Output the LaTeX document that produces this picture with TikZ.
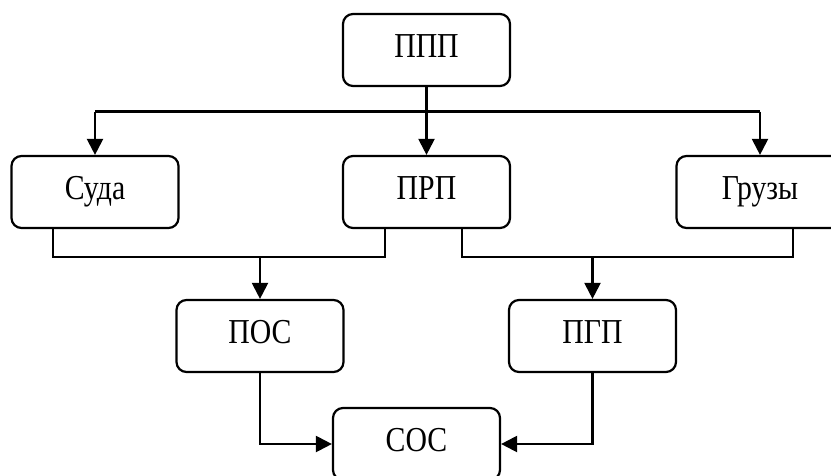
\documentclass[tikz,border=0pt]{standalone}
\usepackage{fontspec}
\setmainfont{Liberation Serif}[FakeStretch=0.85]
\usetikzlibrary{arrows.meta}
\tikzset{
  box/.style={draw, line width=2.2pt, rounded corners=10pt, minimum width=167pt, minimum height=72pt,
    inner sep=0pt, text height=24pt, text depth=9pt, font=\fontsize{35}{35}\selectfont},
  conn/.style={line width=2.2pt},
  arr/.style={conn, -{Triangle[width=16pt,length=16pt]}}
}
\begin{document}
\begin{tikzpicture}[x=1pt,y=-1pt]
\useasboundingbox (0,0) rectangle (831,475);
\clip (0,0) rectangle (831,475);
\node[box] (ppp) at (426.5,50) {ППП};
\node[box] (suda) at (95,192) {Суда};
\node[box] (prp) at (426.5,192) {ПРП};
\node[box] (gruz) at (760,192) {Грузы};
\node[box] (pos) at (260,336) {ПОС};
\node[box] (pgp) at (592.5,336) {ПГП};
\node[box] (sos) at (416.5,444) {СОС};
\coordinate (hl) at (95,111.5);
\coordinate (hr) at (760,111.5);
\coordinate (lbus) at (260,257);
\coordinate (rbus) at (592.5,257);
% top distribution
\draw[arr] (ppp.south) -- (prp.north);
\draw[conn] (hl) -- (hr);
\draw[arr] (hl) -- (suda.north);
\draw[arr] (hr) -- (gruz.north);
% lower buses
\draw[conn] ([xshift=-42pt]suda.south) |- (lbus) -| ([xshift=-41.5pt]prp.south);
\draw[conn] ([xshift=35.5pt]prp.south) |- (rbus) -| ([xshift=33pt]gruz.south);
\draw[arr] (lbus) -- (pos.north);
\draw[arr] (rbus) -- (pgp.north);
% to SOS
\draw[arr] (pos.south) |- (sos.west);
\draw[arr] (pgp.south) |- (sos.east);
\end{tikzpicture}
\end{document}
